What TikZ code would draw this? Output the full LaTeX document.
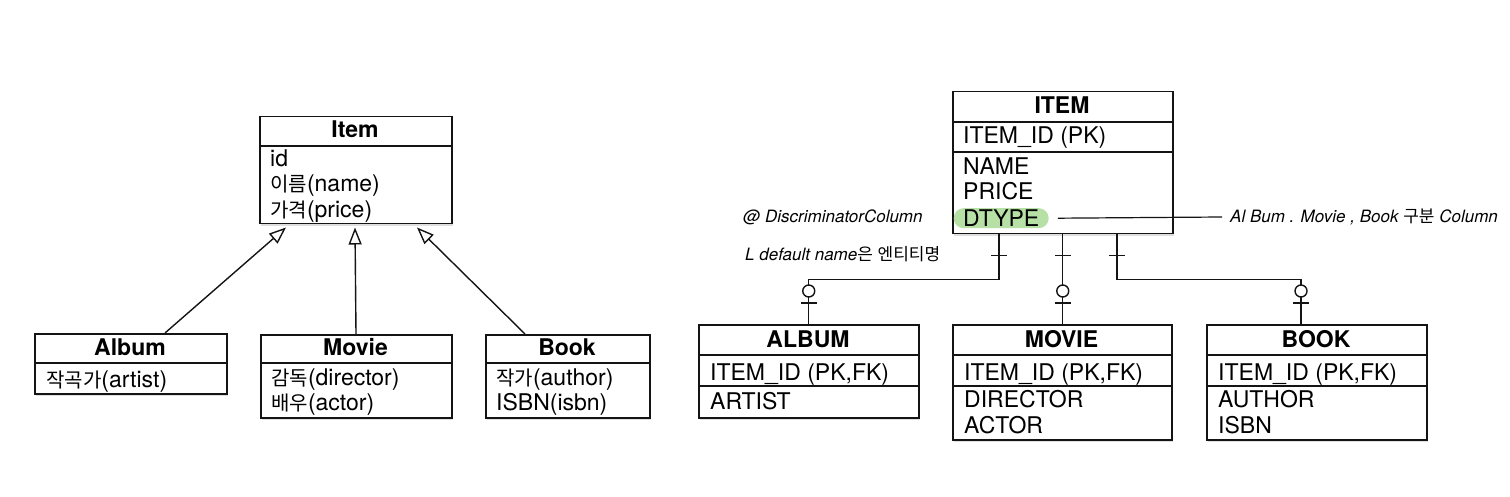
\documentclass[tikz,border=0pt]{standalone}
\usepackage{fontspec}
\setmainfont{TeX Gyre Heros}
\newfontfamily\kr[Scale=0.87]{Noto Sans CJK KR}
\newfontfamily\krh[Scale=1.0]{Noto Sans CJK KR}
\usetikzlibrary{arrows.meta,calc,shadows}
\definecolor{hlgreen}{RGB}{183,224,166}
\definecolor{ink}{RGB}{20,20,20}
\begin{document}
\begin{tikzpicture}[x=1pt,y=-1pt,
  box/.style={draw=ink, line width=1.5pt, fill=white, inner sep=0pt, anchor=north west,
    drop shadow={shadow xshift=1pt,shadow yshift=-2.5pt,opacity=0.25}},
  divider/.style={draw=ink, line width=1.4pt},
  txt/.style={inner sep=0pt, anchor=base west, font=\fontsize{23}{26}\selectfont},
  hdr/.style={inner sep=0pt, anchor=base, font=\fontsize{23}{26}\selectfont\bfseries},
  gen/.style={draw=ink, line width=1.4pt, -{Triangle[open,length=17pt,width=13pt,line width=1.4pt]}},
  conn/.style={draw=ink, line width=1.4pt},
  crc/.style={circle, draw=ink, line width=1.4pt, fill=white, minimum size=12pt, inner sep=0pt},
  hl/.style={fill=hlgreen, rounded corners=10pt, inner sep=0pt, anchor=north west},
  hand/.style={inner sep=0pt, anchor=west, font=\fontsize{17}{19}\selectfont\itshape}
]
\useasboundingbox (0,0) rectangle (1510,497);

% ---------------- left: class diagram ----------------
\node[box, minimum width=192pt, minimum height=107pt] (item) at (259,116) {};
\draw[divider] ($(item.north west)+(0,30)$) -- ($(item.north east)+(0,30)$);
\node[hdr] (itemT) at (355,138) {Item};
\node[txt] (itemF1) at (270,167) {id};
\node[txt] (itemF2) at (270,192) {{\kr 이름}(name)};
\node[txt] (itemF3) at (270,218) {{\kr 가격}(price)};

\node[box, minimum width=192pt, minimum height=60pt] (album) at (34,333) {};
\draw[divider] ($(album.north west)+(0,30)$) -- ($(album.north east)+(0,30)$);
\node[hdr] (albumT) at (130,355) {Album};
\node[txt] (albumF1) at (46,387) {{\kr 작곡가}(artist)};

\node[box, minimum width=191pt, minimum height=83pt] (movie) at (260,334) {};
\draw[divider] ($(movie.north west)+(0,29)$) -- ($(movie.north east)+(0,29)$);
\node[hdr] (movieT) at (355.5,355) {Movie};
\node[txt] (movieF1) at (271,385) {{\kr 감독}(director)};
\node[txt] (movieF2) at (271,410) {{\kr 배우}(actor)};

\node[box, minimum width=164pt, minimum height=83pt] (book) at (485,334) {};
\draw[divider] ($(book.north west)+(0,29)$) -- ($(book.north east)+(0,29)$);
\node[hdr] (bookT) at (567,355) {Book};
\node[txt] (bookF1) at (496,385) {{\kr 작가}(author)};
\node[txt] (bookF2) at (496,410) {ISBN(isbn)};

\draw[gen] ($(album.north west)+(131,0)$) -- ($(item.south west)+(27,3)$);
\draw[gen] ($(movie.north west)+(96,0)$) -- ($(item.south west)+(96,3)$);
\draw[gen] ($(book.north west)+(40,0)$) -- ($(item.south west)+(158,3)$);

% ---------------- right: tables ----------------
\node[box, minimum width=220pt, minimum height=142pt] (ITEM) at (952,91) {};
\draw[divider] ($(ITEM.north west)+(0,31)$) -- ($(ITEM.north east)+(0,31)$);
\draw[divider] ($(ITEM.north west)+(0,61)$) -- ($(ITEM.north east)+(0,61)$);
\node[hl, minimum width=95pt, minimum height=20pt] (dtypehl) at (953.5,208) {};
\node[hdr] (ITEMT) at (1062,114) {ITEM};
\node[txt] (ITEMF0) at (963,144) {ITEM\_ID (PK)};
\node[txt] (ITEMF1) at (963,175) {NAME};
\node[txt] (ITEMF2) at (963,200) {PRICE};
\node[txt] (ITEMF3) at (963,227) {DTYPE};

\node[box, minimum width=220pt, minimum height=93pt] (ALBUM) at (698,324) {};
\draw[divider] ($(ALBUM.north west)+(0,31)$) -- ($(ALBUM.north east)+(0,31)$);
\draw[divider] ($(ALBUM.north west)+(0,62)$) -- ($(ALBUM.north east)+(0,62)$);
\node[hdr] (ALBUMT) at (808,347) {ALBUM};
\node[txt] (ALBUMF0) at (710,380) {ITEM\_ID (PK,FK)};
\node[txt] (ALBUMF1) at (710,409) {ARTIST};

\node[box, minimum width=219pt, minimum height=115pt] (MOVIE) at (952,324) {};
\draw[divider] ($(MOVIE.north west)+(0,31)$) -- ($(MOVIE.north east)+(0,31)$);
\draw[divider] ($(MOVIE.north west)+(0,62)$) -- ($(MOVIE.north east)+(0,62)$);
\node[hdr] (MOVIET) at (1061.5,347) {MOVIE};
\node[txt] (MOVIEF0) at (964,380) {ITEM\_ID (PK,FK)};
\node[txt] (MOVIEF1) at (964,407) {DIRECTOR};
\node[txt] (MOVIEF2) at (964,433) {ACTOR};

\node[box, minimum width=220pt, minimum height=115pt] (BOOK) at (1206,324) {};
\draw[divider] ($(BOOK.north west)+(0,31)$) -- ($(BOOK.north east)+(0,31)$);
\draw[divider] ($(BOOK.north west)+(0,62)$) -- ($(BOOK.north east)+(0,62)$);
\node[hdr] (BOOKT) at (1316,347) {BOOK};
\node[txt] (BOOKF0) at (1218,380) {ITEM\_ID (PK,FK)};
\node[txt] (BOOKF1) at (1218,407) {AUTHOR};
\node[txt] (BOOKF2) at (1218,433) {ISBN};

% relationships
\draw[conn] ($(ITEM.south west)+(47,0)$) coordinate (ja) -- ++(0,45) -| (ALBUM.north);
\draw[conn] (ITEM.south) coordinate (jm) -- (ITEM.south |- MOVIE.north);
\draw[conn] ($(ITEM.south west)+(165,0)$) coordinate (jb) -- ++(0,45) -| ($(BOOK.north west)+(95,0)$) coordinate (bk);

\draw[conn] ($(ja)+(-8,21)$) -- ++(16,0);
\draw[conn] ($(jm)+(-8,21)$) -- ++(16,0);
\draw[conn] ($(jb)+(-8,21)$) -- ++(16,0);

\draw[conn] ($(ALBUM.north)+(-8,-21)$) -- ++(16,0);
\draw[conn] ($(ITEM.south |- MOVIE.north)+(-8,-21)$) -- ++(16,0);
\draw[conn] ($(bk)+(-8,-21)$) -- ++(16,0);
\node[crc] (ca) at ($(ALBUM.north)+(0,-33)$) {};
\node[crc] (cm) at ($(ITEM.south |- MOVIE.north)+(0,-33)$) {};
\node[crc] (cb) at ($(bk)+(0,-33)$) {};

% notes
\node[hand] (note1) at (743,217) {@ DiscriminatorColumn};
\node[hand] (note1b) at (745,254) {L default name{\krh 은} {\krh 엔티티명}};
\node[hand] (note2) at (1230,217) {Al Bum . Movie , Book {\krh 구분} Column};
\draw[conn, line width=1.2pt] ($(dtypehl.east)+(9,0)$) -- ($(note2.west)+(-8,0)$);
\end{tikzpicture}
\end{document}
